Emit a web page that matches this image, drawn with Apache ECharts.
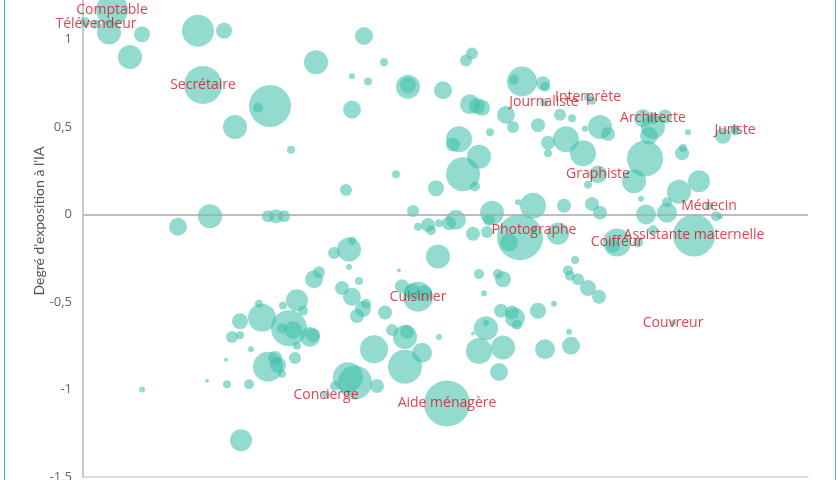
<!DOCTYPE html>
<html>
<head>
<meta charset="utf-8">
<script src="https://cdn.jsdelivr.net/npm/echarts@6/dist/echarts.min.js"></script>
<style>
  html, body { margin: 0; padding: 0; background: #fff; }
  #wrap { position: relative; width: 840px; height: 480px; overflow: hidden; }
  #box { position: absolute; left: 0; top: -48px; width: 840px; height: 528px; }
  #cadre { position: absolute; left: 4px; top: 0; width: 830px; height: 480px;
           border-left: 1.5px solid #3cc0ad; border-right: 1.5px solid #3cc0ad;
           pointer-events: none; }
</style>
</head>
<body>
<div id="wrap">
  <div id="box"></div>
  <div id="cadre"></div>
</div>
<script>
// metiers nommes : [indice, exposition a l'IA, effectif (milliers)]
var metiers = ['Comptable', 'Télévendeur', 'Secrétaire', 'Journaliste', 'Interprète', 'Architecte',
  'Juriste', 'Graphiste', 'Médecin', 'Photographe', 'Coiffeur', 'Assistante maternelle',
  'Cuisinier', 'Couvreur', 'Concierge', 'Aide ménagère'];
var metiersPoints = [
  [5.8, 1.17, 256], [2.6, 1.09, 16], [24, 0.74, 361], [92.2, 0.64, 16], [101, 0.67, 16], [114, 0.55, 36],
  [130.4, 0.48, 25], [103, 0.23, 81], [125.2, 0.05, 16], [90.2, -0.09, 9], [106.8, -0.16, 196], [122.2, -0.12, 441],
  [67, -0.47, 225], [118, -0.62, 9], [48.6, -1.03, 16], [72.8, -1.08, 529]
];

// autres metiers
var autres = [
  [5.2, 1.04, 144], [0.4, 1.10, 25], [11.8, 1.03, 64], [9.4, 0.90, 144], [23, 1.05, 256], [28.2, 1.05, 64],
  [37.4, 0.62, 441], [35, 0.61, 25], [30.4, 0.50, 144], [41.6, 0.37, 16], [56.2, 1.02, 81], [46.6, 0.87, 144],
  [60.2, 0.87, 16], [53.8, 0.79, 9], [57, 0.76, 16], [65, 0.73, 144], [65, 0.74, 64], [72, 0.71, 81],
  [53.8, 0.60, 81], [62.6, 0.23, 16], [52.6, 0.14, 36], [70.6, 0.15, 64], [66, 0.02, 36], [25.4, -0.01, 144],
  [19, -0.07, 81], [37, -0.01, 36], [38.6, -0.01, 49], [40.2, -0.01, 36],
  [77.8, 0.92, 36], [76.6, 0.88, 36], [87.8, 0.76, 225], [86.2, 0.77, 25], [92, 0.75, 49], [92.4, 0.73, 25],
  [77.4, 0.63, 100], [78.8, 0.62, 64], [79.8, 0.61, 64], [84.6, 0.57, 81], [86, 0.50, 36], [91, 0.51, 49],
  [95.4, 0.57, 36], [97.8, 0.55, 16], [101.8, 0.65, 16], [81.4, 0.47, 16], [75.2, 0.43, 169], [74, 0.40, 49],
  [79.2, 0.33, 144], [76, 0.23, 289], [78.4, 0.16, 25], [93, 0.41, 49], [93, 0.35, 16], [96.6, 0.43, 169],
  [100, 0.35, 169], [103.4, 0.50, 144], [105, 0.46, 49], [100.4, 0.49, 9], [101, 0.17, 16], [112.4, 0.32, 324],
  [110.2, 0.19, 144], [112, 0.55, 81], [114, 0.50, 144], [116.4, 0.56, 49], [113.2, 0.45, 81], [121, 0.47, 9],
  [119.8, 0.35, 49], [120, 0.38, 16], [128, 0.45, 64], [130.4, 0.49, 16], [123.2, 0.19, 121], [119.2, 0.13, 144],
  [116.8, 0.07, 25], [111.6, 0.09, 9], [112.6, 0, 100], [116.8, 0.01, 100], [126.6, -0.01, 25], [127.4, -0.01, 9],
  [96.2, 0.05, 49], [101.8, 0.06, 49], [103.4, 0.01, 49], [90, 0.05, 169], [87, 0.07, 9], [81.8, 0.01, 144],
  [81.2, -0.03, 36], [78, -0.11, 49], [74.6, -0.03, 100], [73.2, -0.05, 49], [71.2, -0.05, 16], [69, -0.06, 49],
  [69.6, -0.09, 25], [67, -0.07, 16], [87.4, -0.13, 529], [85.2, -0.16, 81], [95, -0.11, 121], [106, -0.18, 49],
  [111, -0.16, 25], [114, -0.09, 25], [80.8, -0.10, 36],
  [71, -0.24, 144], [63.2, -0.32, 4], [79.2, -0.34, 25], [83, -0.34, 25], [84, -0.37, 64], [80.2, -0.45, 9],
  [98.4, -0.26, 16], [97, -0.32, 25], [97.4, -0.35, 25], [99, -0.37, 36], [101, -0.42, 64], [103.2, -0.47, 49],
  [63.8, -0.41, 49], [65.8, -0.44, 64], [68.2, -0.45, 64], [60.4, -0.56, 49], [94.2, -0.51, 9], [91, -0.55, 64],
  [83.6, -0.55, 49], [86.4, -0.59, 100], [85.8, -0.56, 49], [86.8, -0.63, 25], [80.6, -0.65, 144], [80.6, -0.62, 9],
  [78, -0.68, 4], [79.2, -0.78, 169], [84, -0.76, 144], [83.2, -0.90, 81], [92.4, -0.77, 100], [97.6, -0.75, 81],
  [97.2, -0.67, 9], [71.2, -0.70, 9], [64.4, -0.70, 144], [64.8, -0.67, 49], [61.8, -0.66, 36], [67.8, -0.79, 100],
  [64.4, -0.87, 289], [58.2, -0.77, 196],
  [53.2, -0.20, 144], [53.8, -0.15, 16], [50.2, -0.22, 36], [53.2, -0.30, 9], [55.2, -0.38, 16], [46.2, -0.37, 81],
  [47.2, -0.33, 36], [51.8, -0.42, 49], [53.8, -0.47, 81], [56, -0.54, 64], [54.8, -0.58, 49], [56.6, -0.51, 25],
  [42.8, -0.49, 121], [40, -0.52, 16], [44, -0.55, 25], [35.2, -0.51, 16], [35.8, -0.59, 196], [31.4, -0.61, 64],
  [41.2, -0.65, 324], [42, -0.66, 81], [39.8, -0.65, 25], [45.4, -0.70, 100], [46, -0.69, 49], [29.8, -0.70, 36],
  [31.4, -0.69, 16], [42.8, -0.75, 16], [33.6, -0.77, 9], [28.6, -0.83, 4], [42.4, -0.82, 36], [37, -0.87, 225],
  [38.4, -0.82, 49], [39, -0.86, 64], [39.8, -0.91, 16], [24.8, -0.95, 4], [28.8, -0.97, 16], [33.2, -0.97, 25],
  [11.8, -1.00, 9], [31.6, -1.29, 121], [53, -0.93, 225], [54.4, -0.96, 289], [58.8, -0.98, 49], [50.4, -0.98, 25]
];

var yMin = -1.5, yMax = 1.5, yPas = 0.5;

var chartDom = document.getElementById('box');
var myChart = echarts.init(chartDom);
var couleur = 'rgba(62,191,169,0.7)';
var taille = function (val) { return 2 * Math.sqrt(val[2]); };

var option = {
  animation: false,
  grid: { left: 83, right: 32, top: 0, bottom: 3, containLabel: false, outerBoundsMode: 'none' },
  xAxis: {
    type: 'value',
    min: 0,
    max: 145,
    axisLine: { show: true, onZero: false, lineStyle: { color: '#cfcfcf', width: 1.5 } },
    axisTick: { show: false },
    axisLabel: { show: false },
    splitLine: { show: false }
  },
  yAxis: {
    type: 'value',
    min: yMin,
    max: yMax,
    interval: yPas,
    name: "Degré d'exposition à l'IA",
    nameLocation: 'middle',
    nameGap: 37,
    nameMoveOverlap: false,
    nameTextStyle: { color: '#555', fontSize: 14, fontFamily: 'Lato', padding: [0, 13, 0, 0] },
    axisLine: { show: true, lineStyle: { color: '#b8b8b8', width: 1.5 } },
    axisTick: { show: false },
    axisLabel: {
      color: '#666', fontSize: 13, fontFamily: 'Open Sans', margin: 11,
      formatter: function (v) { return String(v).replace('.', ','); }
    },
    splitLine: { show: false }
  },
  series: [
    {
      type: 'scatter',
      data: autres,
      symbolSize: taille,
      itemStyle: { color: couleur },
      markLine: {
        silent: true,
        symbol: 'none',
        label: { show: false },
        lineStyle: { color: '#a8a8a8', type: 'solid', width: 1.5 },
        data: [{ yAxis: 0 }]
      }
    },
    {
      type: 'scatter',
      z: 3,
      data: metiersPoints.map(function (p, i) { return { name: metiers[i], value: p }; }),
      symbolSize: taille,
      itemStyle: { color: couleur },
      label: {
        show: true,
        position: 'inside',
        formatter: '{b}',
        color: '#d41424',
        fontSize: 14,
        fontFamily: 'Open Sans'
      }
    }
  ]
};
myChart.setOption(option);
</script>
</body>
</html>
